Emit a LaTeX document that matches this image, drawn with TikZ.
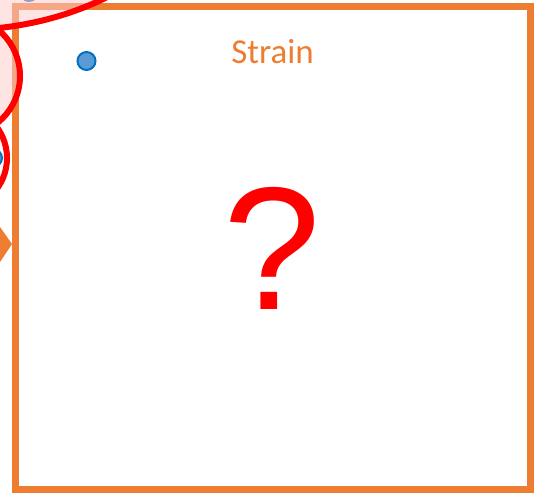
\documentclass[tikz,border=0pt]{standalone}
\usepackage{fontspec}
\setmainfont{Carlito}
\newfontfamily\arialfont{Liberation Sans}
\usetikzlibrary{positioning}
\definecolor{offorange}{RGB}{237,125,49}
\definecolor{dotblue}{RGB}{91,155,213}
\definecolor{dotedge}{RGB}{0,112,192}
\definecolor{softpink}{RGB}{255,205,205}

\begin{document}
\begin{tikzpicture}[x=1pt,y=-1pt,
  frame/.style={draw=offorange,line width=7pt},
  dot/.style={fill=dotblue,draw=dotedge,line width=2pt},
  ring/.style={draw=red,line width=6pt},
  shade/.style={fill=softpink,fill opacity=0.55}]
\useasboundingbox (0,0) rectangle (538,493);
\clip (0,0) rectangle (538,493);
% frame and arrow head
\draw[frame] (15.5,6.5) rectangle (530.5,489.5);
\fill[offorange] (0,227) -- (12,244) -- (0,262) -- cycle;
% dots
\draw[dot] (86.5,61) circle[radius=9pt];
\draw[dot] (29,-8) circle[radius=9pt];
\draw[dot] (-7,158) circle[radius=9pt];
% marks on the left
\fill[shade] (-39,-145) ellipse[x radius=250pt,y radius=175pt];
\fill[shade] (-40,76) circle[radius=60pt];
\draw[ring] (-39,-145) ellipse[x radius=250pt,y radius=175pt];
\draw[ring] (-40,76) circle[radius=60pt];
\draw[ring] (-45,158) circle[radius=52pt];
% texts
\node[anchor=base,inner sep=0pt,text=offorange,font=\fontsize{35}{35}\selectfont] (title) at (272.5,63) {Strain};
\node[anchor=base,inner sep=0pt,text=red,font=\arialfont\fontsize{175}{175}\selectfont] (query) at (272.5,309) {?};
\end{tikzpicture}
\end{document}
